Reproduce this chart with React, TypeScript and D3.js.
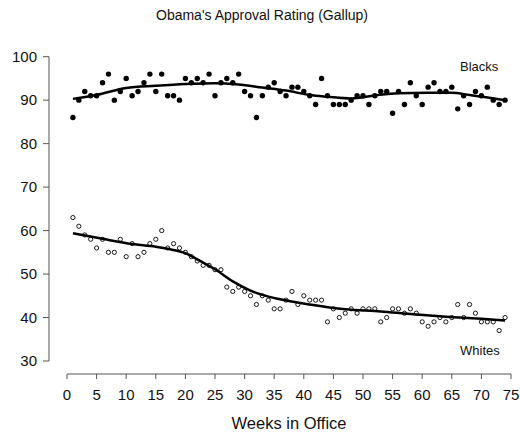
import React from "react";
import * as d3 from "d3";

const weeks: number[] = d3.range(1, 75);
const blacks: number[] = [
  86, 90, 92, 91, 91, 94, 96, 90, 92, 95,
  91, 92, 94, 96, 92, 96, 91, 91, 90, 95,
  94, 95, 94, 96, 91, 94, 95, 94, 96, 92,
  91, 86, 91, 93, 94, 92, 91, 93, 93, 92,
  91, 89, 95, 91, 89, 89, 89, 90, 91, 91,
  89, 91, 92, 92, 87, 92, 89, 94, 91, 89,
  93, 94, 92, 92, 93, 88, 91, 89, 92, 91,
  93, 90, 89, 90,
];
const whites: number[] = [
  63, 61, 59, 58, 56, 58, 55, 55, 58, 54,
  57, 54, 55, 57, 58, 60, 56, 57, 56, 55,
  54, 53, 52, 52, 51, 51, 47, 46, 47, 46,
  45, 43, 45, 44, 42, 42, 44, 46, 43, 45,
  44, 44, 44, 39, 42, 40, 41, 42, 41, 42,
  42, 42, 39, 40, 42, 42, 41, 42, 41, 39,
  38, 39, 40, 39, 40, 43, 40, 43, 41, 39,
  39, 39, 37, 40,
];
const blacksFitWeeks: number[] = [1, 5, 10, 15, 20, 25, 29, 33, 37, 41, 44, 48, 52, 56, 61, 65, 68, 74];
const blacksFit: number[] = [90.3, 91.2, 92.8, 93.3, 93.7, 93.9, 93.6, 92.9, 92.2, 91.2, 90.8, 90.4, 91.1, 91.6, 91.7, 91.7, 91.2, 90.0];
const whitesFitWeeks: number[] = [1, 6, 11, 15, 17, 20, 22, 25, 28, 31, 33, 36, 41, 47, 53, 58, 64, 70, 74];
const whitesFit: number[] = [59.4, 58.1, 56.9, 56.3, 55.8, 54.8, 53.4, 51.1, 48.3, 46.2, 45.2, 44.2, 43.0, 41.9, 41.4, 40.8, 40.2, 39.7, 39.3];
const xTicks: number[] = d3.range(0, 80, 5);
const yTicks: number[] = [30, 40, 50, 60, 70, 80, 90, 100];

const W = 520;
const H = 436;
const FONT = "'Liberation Sans', Arial, sans-serif";
const AXIS = "#555";

export default function App() {
  const x = d3.scaleLinear().domain([0, 75]).range([67, 511]);
  const y = d3.scaleLinear().domain([30, 100]).range([361, 56.7]);
  const line = d3
    .line<[number, number]>()
    .x((d) => x(d[0]))
    .y((d) => y(d[1]))
    .curve(d3.curveMonotoneX);
  const bFit = blacksFitWeeks.map((w, i) => [w, blacksFit[i]] as [number, number]);
  const wFit = whitesFitWeeks.map((w, i) => [w, whitesFit[i]] as [number, number]);
  const axisX = 49;
  const axisY = 374;

  return (
    <svg
      width={W}
      height={H}
      style={{ position: "absolute", left: 0, top: 0, background: "#fff" }}
      fontFamily={FONT}
    >
      <rect x={0} y={0} width={W} height={H} fill="#fff" />
      <text x={262} y={20} textAnchor="middle" fontSize={14} fill="#111">
        Obama's Approval Rating (Gallup)
      </text>

      {/* Y axis */}
      <line x1={axisX} x2={axisX} y1={y(100)} y2={y(30)} stroke={AXIS} strokeWidth={1} />
      {yTicks.map((t) => (
        <g key={"y" + t}>
          <line x1={axisX - 6} x2={axisX} y1={y(t)} y2={y(t)} stroke={AXIS} />
          <text x={37} y={y(t)} dy="0.35em" textAnchor="end" fontSize={15} fill="#111">
            {t}
          </text>
        </g>
      ))}

      {/* X axis */}
      <line x1={x(0)} x2={x(75)} y1={axisY} y2={axisY} stroke={AXIS} strokeWidth={1} />
      {xTicks.map((t) => (
        <g key={"x" + t}>
          <line x1={x(t)} x2={x(t)} y1={axisY} y2={axisY + 5} stroke={AXIS} />
          <text x={x(t)} y={400} textAnchor="middle" fontSize={15} fill="#111">
            {t}
          </text>
        </g>
      ))}
      <text x={x(37.5)} y={429} textAnchor="middle" fontSize={16.5} fill="#111">
        Weeks in Office
      </text>

      {/* Blacks */}
      {blacks.map((v, i) => (
        <circle key={"b" + i} cx={x(weeks[i])} cy={y(v)} r={2.7} fill="#000" />
      ))}
      <path d={line(bFit) || ""} fill="none" stroke="#000" strokeWidth={2.5} />

      {/* Whites */}
      {whites.map((v, i) => (
        <circle key={"w" + i} cx={x(weeks[i])} cy={y(v)} r={2.1} fill="#fff" stroke="#000" strokeWidth={0.9} />
      ))}
      <path d={line(wFit) || ""} fill="none" stroke="#000" strokeWidth={2.5} />

      <text x={460} y={71} fontSize={13} fill="#111">Blacks</text>
      <text x={460} y={355} fontSize={13} fill="#111">Whites</text>
    </svg>
  );
}
